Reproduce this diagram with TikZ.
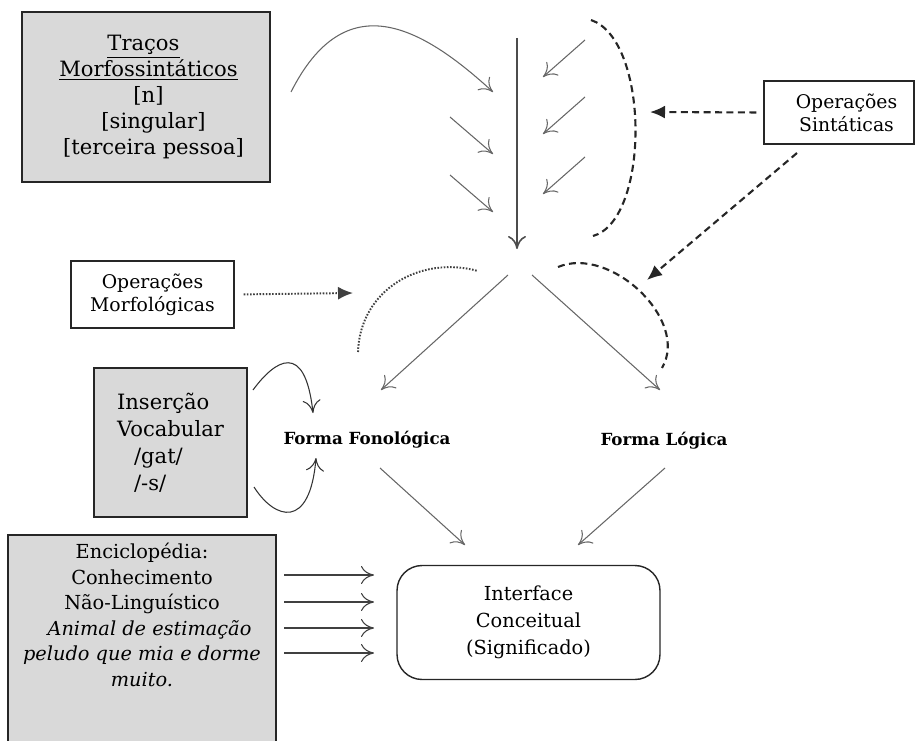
\documentclass[tikz,border=0pt]{standalone}
\usepackage{fontspec}
\setmainfont{DejaVu Serif}
\usetikzlibrary{arrows.meta}
\tikzset{
box/.style = { draw = black!85, line width = 0.8pt, align = center, inner sep = 0pt },
greybox/.style = { box, fill = black!15 },
opbox/.style = { box, fill = white, font = \fontsize{10.7}{13}\selectfont },
formlabel/.style = { font = \bfseries\fontsize{9.5}{11}\selectfont },
flow/.style = { draw = black!60, line width = 0.6pt, -{To[length=2.6mm,width=3.6mm]} },
synt/.style = { draw = black!85, line width = 1.2pt, dash pattern = on 4pt off 2.5pt },
morph/.style = { draw = black!75, line width = 1.1pt, dash pattern = on 0.9pt off 0.9pt },
head/.style = { -{Latex[length=3mm,width=2.6mm]} }
}

\begin{document}
\begin{tikzpicture}[x=0.02cm, y=-0.02cm]
\useasboundingbox (0,0) rectangle (915,740);

% caixas
\node[greybox, minimum width=4.96cm, minimum height=3.4cm,
  font=\fontsize{12}{14.8}\selectfont] (trac) at (146,97)
  {\underline{Traços}\hspace*{0.1cm}\\ \hspace*{0.1cm}\underline{Morfossintáticos}\\
   \hspace*{0.1cm}{[n]}\\ \hspace*{0.3cm}{[singular]}\\ \hspace*{0.3cm}{[terceira pessoa]}};
\node[opbox, minimum width=3cm, minimum height=1.26cm] (sint) at (839,112.5)
  {\hspace*{0.3cm}Operações\\\hspace*{0.3cm}Sintáticas};
\node[opbox, minimum width=3.26cm, minimum height=1.34cm] (morf) at (152.5,294.5)
  {Operações\\Morfológicas};
\node[greybox, minimum width=3.06cm, minimum height=2.98cm, align=left,
  font=\fontsize{12}{15.4}\selectfont] (ins) at (170.5,442.5)
  {Inserção\\Vocabular\\\hspace*{0.34cm}/gat/\\\hspace*{0.34cm}/-s/};
\node[greybox, minimum width=5.36cm, minimum height=4.18cm] (enc) at (142,639.5) {};
\node[align=center, font=\fontsize{11}{14.5}\selectfont] (enctext) at (142,615)
  {Enciclopédia:\\Conhecimento\\Não-Linguístico\\{\itshape \hspace*{0.3cm}Animal de estimação}\\
   {\itshape peludo que mia e dorme}\\{\itshape muito.}};
\node[box, rounded corners=0.5cm, minimum width=5.26cm, minimum height=2.28cm,
  font=\fontsize{11}{15.4}\selectfont] (ic) at (528.5,622.5)
  {Interface\\Conceitual\\(Significado)};
\node[formlabel] (ff) at (367,440) {Forma Fonológica};
\node[formlabel] (fl) at (664,441) {Forma Lógica};

% derivacao
\coordinate (deriv) at (517,38);
\coordinate (spellout) at (517,249);
\draw[flow, line width=0.9pt, draw=black!70] (deriv) -- (spellout);
\coordinate (c0) at (291,92);
\coordinate (c1) at (493,92);
\draw[flow] (c0) .. controls (345,-15) and (420,25) .. (c1);
\foreach \y [count=\i] in {117,175} {
  \coordinate (la\i) at (450,\y);
  \coordinate (lb\i) at (493,\y+37);
  \draw[flow] (la\i) -- (lb\i);
}
\foreach \y [count=\i] in {40,97,157} {
  \coordinate (ra\i) at (585,\y);
  \coordinate (rb\i) at (543,\y+37);
  \draw[flow] (ra\i) -- (rb\i);
}

% operacoes sintaticas
\coordinate (s0) at (591,20);
\coordinate (s1) at (593,236);
\draw[synt] (s0) .. controls (650,40) and (650,220) .. (s1);
\coordinate (sa) at (650,112);
\draw[synt, head, shorten <=0.14cm] (sint.west) -- (sa);
\coordinate (sb0) at (797,153);
\coordinate (sb1) at (647,280);
\draw[synt, head] (sb0) -- (sb1);
\coordinate (lf0) at (558,267);
\coordinate (lf1) at (662,368);
\draw[synt] (lf0) .. controls (610,245) and (690,320) .. (lf1);

% operacoes morfologicas
\coordinate (pf0) at (358,352);
\coordinate (pf1) at (478,271);
\draw[morph] (pf0) .. controls (360,290) and (420,255) .. (pf1);
\coordinate (ma) at (353,293);
\draw[morph, head, shorten <=0.18cm] (morf.east) -- (ma);

% FF e FL
\coordinate (fa) at (508,275);
\coordinate (fb) at (532,275);
\coordinate (pfend) at (381,390);
\coordinate (lfend) at (660,390);
\draw[flow] (fa) -- (pfend);
\draw[flow] (fb) -- (lfend);

% insercao vocabular
\coordinate (ins1) at (253,390);
\coordinate (ins2) at (313,413);
\draw[flow, draw=black!80] (ins1) .. controls (275,360) and (305,340) .. (ins2);
\coordinate (ins3) at (254,487);
\coordinate (ins4) at (316,458);
\draw[flow, draw=black!80] (ins3) .. controls (275,520) and (310,530) .. (ins4);

% interface
\coordinate (ff0) at (380,468);
\coordinate (ic1) at (465,545);
\coordinate (fl0) at (665,468);
\coordinate (ic2) at (578,545);
\draw[flow] (ff0) -- (ic1);
\draw[flow] (fl0) -- (ic2);
\foreach \y [count=\i] in {575,602,628,653} {
  \coordinate (ea\i) at (284,\y);
  \coordinate (eb\i) at (374,\y);
  \draw[flow, draw=black!75] (ea\i) -- (eb\i);
}
\end{tikzpicture}
\end{document}
